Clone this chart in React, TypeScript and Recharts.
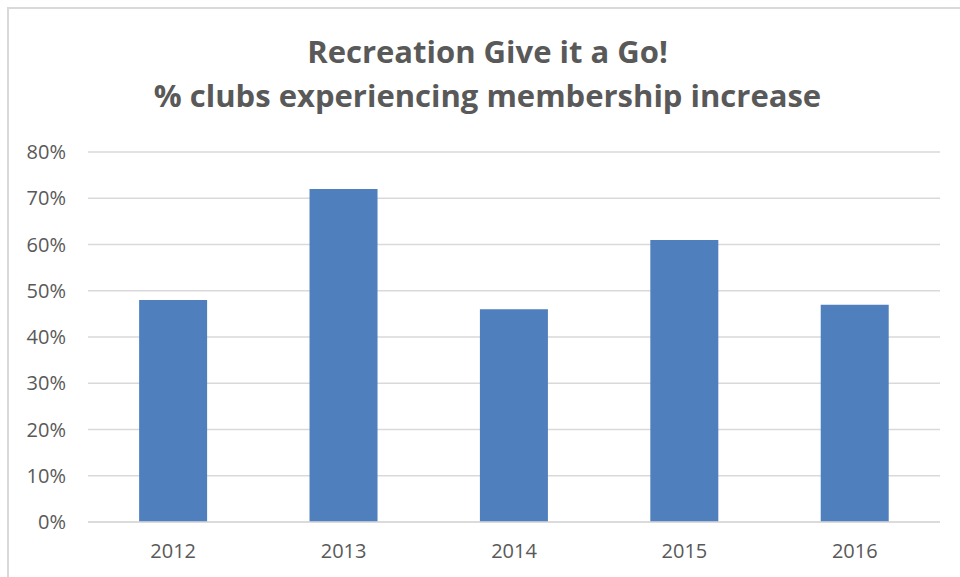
import React from 'react';
import { BarChart, Bar, XAxis, YAxis, CartesianGrid } from 'recharts';

const years = ['2012', '2013', '2014', '2015', '2016'];
const clubsIncrease = [48, 72, 46, 61, 47];
const yTicks = [0, 10, 20, 30, 40, 50, 60, 70, 80];

const chartData = years.map((year, i) => ({ year, value: clubsIncrease[i] }));

const FONT = '"Open Sans", "Noto Sans", sans-serif';
const TEXT = '#595959';

export default function App() {
  return (
    <div
      style={{
        position: 'absolute',
        left: 0,
        top: 0,
        width: 960,
        height: 577,
        background: '#fff',
        overflow: 'hidden',
        fontFamily: FONT,
      }}
    >
      {/* chart frame, only the top and left edges fall inside the view */}
      <div
        style={{
          position: 'absolute',
          left: 7,
          top: 7,
          width: 980,
          height: 600,
          borderTop: '2px solid #d9d9d9',
          borderLeft: '2px solid #d9d9d9',
          boxSizing: 'border-box',
        }}
      />
      <div
        style={{
          position: 'absolute',
          left: 0,
          top: 29,
          width: 975,
          textAlign: 'center',
          color: TEXT,
          fontWeight: 700,
          fontSize: 31,
          lineHeight: '44px',
        }}
      >
        <div>Recreation Give it a Go!</div>
        <div>% clubs experiencing membership increase</div>
      </div>
      <div style={{ position: 'absolute', left: 0, top: 0 }}>
        <BarChart
          width={960}
          height={577}
          data={chartData}
          margin={{ top: 152, right: 20, bottom: 0, left: 0 }}
          barCategoryGap="30%"
        >
          <CartesianGrid vertical={false} stroke="#d9d9d9" strokeWidth={1.5} />
          <XAxis
            dataKey="year"
            height={55}
            axisLine={{ stroke: '#d9d9d9', strokeWidth: 1.5 }}
            tickLine={false}
            tickSize={0}
            tickMargin={22}
            tick={{ fill: TEXT, fontSize: 20, fontFamily: FONT }}
          />
          <YAxis
            width={88}
            domain={[0, 80]}
            ticks={yTicks}
            interval={0}
            axisLine={false}
            tickLine={false}
            tickSize={0}
            tickMargin={22}
            tickFormatter={(v: number) => `${v}%`}
            tick={{ fill: TEXT, fontSize: 20, fontFamily: FONT }}
          />
          <Bar dataKey="value" fill="#4f7fbc" isAnimationActive={false} />
        </BarChart>
      </div>
    </div>
  );
}
